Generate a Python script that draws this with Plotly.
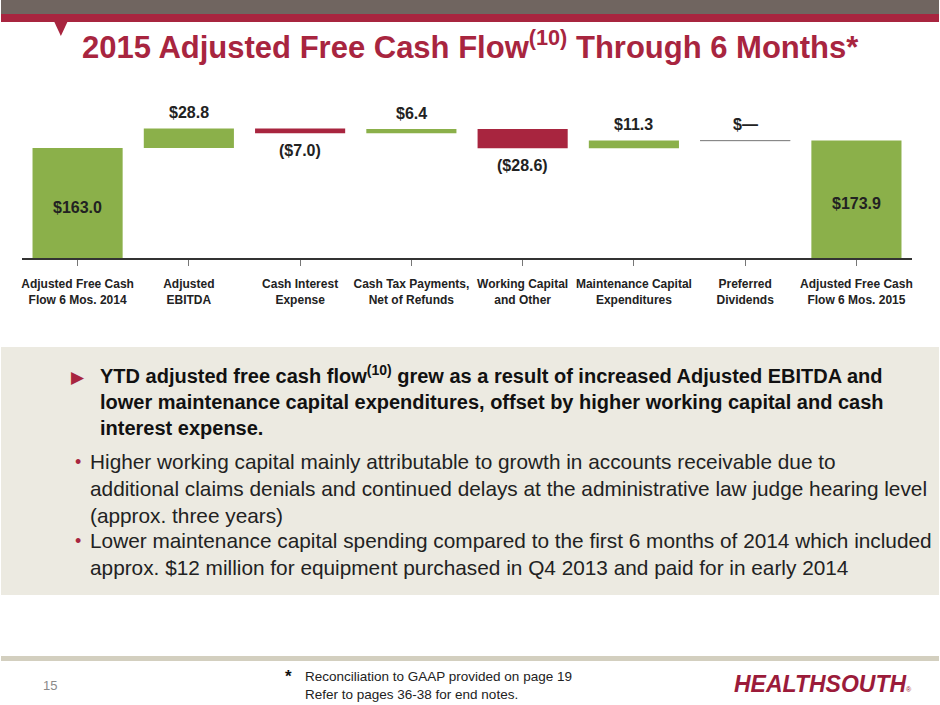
import plotly.graph_objects as go

categories = ["Adjusted Free Cash<br>Flow 6 Mos. 2014", "Adjusted<br>EBITDA", "Cash Interest<br>Expense",
              "Cash Tax Payments,<br>Net of Refunds", "Working Capital<br>and Other",
              "Maintenance Capital<br>Expenditures", "Preferred<br>Dividends",
              "Adjusted Free Cash<br>Flow 6 Mos. 2015"]
values = [163.0, 28.8, -7.0, 6.4, -28.6, 11.3, 0.0, 173.9]
labels = ["$163.0", "$28.8", "($7.0)", "$6.4", "($28.6)", "$11.3", "$—", "$173.9"]
kinds = ["total", "rel", "rel", "rel", "rel", "rel", "rel", "total"]

GREEN = "#8BB04A"; RED = "#A8253F"; W, H = 940, 705
def px(y): return 1 - y / H

bases, heights, colors, lines = [], [], [], []
run = 0
for v, k in zip(values, kinds):
    if k == "total":
        bases.append(0); heights.append(v); run = v; colors.append(GREEN)
    else:
        if v >= 0:
            bases.append(run); heights.append(v)
        else:
            bases.append(run + v); heights.append(-v)
        run += v
        colors.append(GREEN if v > 0 else (RED if v < 0 else "rgba(0,0,0,0)"))
    lines.append("#888" if v == 0 and k != "total" else colors[-1])

fig = go.Figure(go.Bar(x=list(range(8)), y=heights, base=bases, width=0.81,
                       marker=dict(color=colors, line=dict(color=lines, width=[1 if c == "#888" else 0 for c in lines])),
                       hoverinfo="skip"))

anns = []
for i, (v, k, b, h, t) in enumerate(zip(values, kinds, bases, heights, labels)):
    if k == "total":
        y, ya = b + h / 2 - 6, "middle"
    elif v >= 0:
        y, ya = b + h + 8, "bottom"
    else:
        y, ya = b - 10, "top"
    anns.append(dict(x=i, y=y, xref="x", yref="y", text=f"<b>{t}</b>", showarrow=False,
                     yanchor=ya, font=dict(size=16, color="#222")))

fig.update_layout(
    width=W, height=H, margin=dict(l=0, r=0, t=0, b=0), showlegend=False,
    plot_bgcolor="white", paper_bgcolor="white",
    font=dict(family="Liberation Sans, Arial, sans-serif"),
    xaxis=dict(domain=[21 / W, 913 / W], range=[-0.5, 7.5], tickmode="array",
               tickvals=list(range(8)), ticktext=[f"<b>{c}</b>" for c in categories],
               tickfont=dict(size=12, color="#222"), showline=True, linecolor="#333", linewidth=1.5,
               showgrid=False, ticks="outside", ticklen=6, tickcolor="#777",
               ticklabelstandoff=8, fixedrange=True),
    yaxis=dict(domain=[px(258), px(103)], range=[0, 229.6], visible=False, fixedrange=True),
)

shapes = [
    dict(type="rect", xref="paper", yref="paper", x0=0, x1=1, y0=px(14), y1=1, fillcolor="#706560", line_width=0),
    dict(type="rect", xref="paper", yref="paper", x0=0, x1=1, y0=px(22), y1=px(14), fillcolor=RED, line_width=0),
    dict(type="path", xref="paper", yref="paper",
         path=f"M {53/W} {px(21)} L {67/W} {px(21)} L {60/W} {px(36)} Z", fillcolor=RED, line_width=0),
    dict(type="rect", xref="paper", yref="paper", x0=0, x1=1, y0=px(595), y1=px(347), fillcolor="#ECEAE1", line_width=0),
    dict(type="rect", xref="paper", yref="paper", x0=0, x1=1, y0=px(661), y1=px(656), fillcolor="#D3CFBF", line_width=0),
]

def pa(x, y, text, size, color, xa="left", ya="top", **kw):
    anns.append(dict(x=x / W, y=px(y), xref="paper", yref="paper", text=text, showarrow=False,
                     xanchor=xa, yanchor=ya, align="left", font=dict(size=size, color=color, **kw)))

pa(470, 45, "<b>2015 Adjusted Free Cash Flow<sup>(10)</sup> Through 6 Months*</b>", 31, RED, xa="center", ya="middle")
pa(68, 377, "▶", 17, RED, ya="middle")
pa(97, 360, "<b>YTD adjusted free cash flow<sup>(10)</sup> grew as a result of increased Adjusted EBITDA and<br>"
            "lower maintenance capital expenditures, offset by higher working capital and cash<br>"
            "interest expense.</b>", 20, "#111")
pa(72, 462, "•", 18, RED, ya="middle")
pa(87, 448, "Higher working capital mainly attributable to growth in accounts receivable due to<br>"
            "additional claims denials and continued delays at the administrative law judge hearing level<br>"
            "(approx. three years)", 20.8, "#222")
pa(72, 541, "•", 18, RED, ya="middle")
pa(87, 527, "Lower maintenance capital spending compared to the first 6 months of 2014 which included<br>"
            "approx. $12 million for equipment purchased in Q4 2013 and paid for in early 2014", 20.8, "#222")
pa(40, 685, "15", 13, "#8a8a8a", ya="middle")
pa(283, 676, "<b>*</b>", 17, "#111", ya="middle")
pa(303, 667, "Reconciliation to GAAP provided on page 19<br>Refer to pages 36-38 for end notes.", 13.5, "#222")
pa(915, 684, "<b><i>HEALTHSOUTH</i></b><span style='font-size:7px'>®</span>", 23, "#9B1B3A", xa="right", ya="middle")

fig.update_layout(shapes=shapes, annotations=anns)
fig.write_html("out.html", config={"displayModeBar": False},
               post_script="document.body.style.margin='0';document.body.style.overflow='hidden';")
